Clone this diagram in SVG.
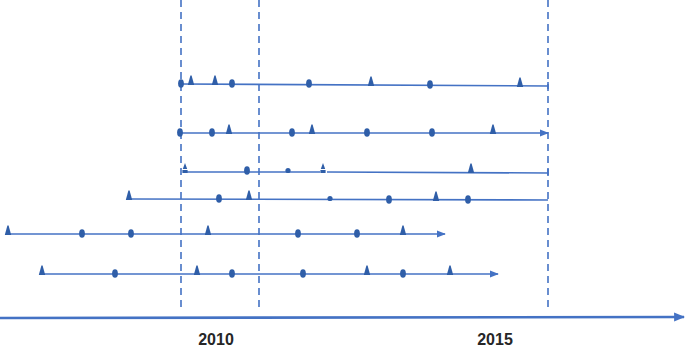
<svg xmlns="http://www.w3.org/2000/svg" xmlns:xlink="http://www.w3.org/1999/xlink" width="685" height="349" viewBox="0 0 685 349">
<style>
.ln{stroke:#4472C4;stroke-width:1.6;fill:none}
.dash{stroke:#4472C4;stroke-width:1.6;stroke-dasharray:7 5;fill:none}
.axis{stroke:#4472C4;stroke-width:2.6;fill:none}
.mk{fill:#2F5EA8}
.yr{font-family:"Liberation Sans",Arial,sans-serif;font-weight:bold;font-size:16px;fill:#262626}
</style>
<defs>
<path id="tri" class="mk" d="M-3.2,1 L-0.6,-8.5 L0.6,-8.5 L3.2,1 Z"/>
<ellipse id="ell" class="mk" cx="0" cy="-0.5" rx="2.9" ry="4.3"/>
<circle id="dot" class="mk" cx="0" cy="-0.5" r="2.6"/>
<path id="stri" class="mk" d="M-2.2,-3 L0,-9 L2.2,-3 Z M-2.6,-2 h5.2 v3 h-5.2 Z"/>
<marker id="arr" viewBox="0 0 10 10" refX="9" refY="5" markerWidth="9" markerHeight="9" markerUnits="userSpaceOnUse" orient="auto">
<path d="M0,1 L10,5 L0,9 Z" fill="#4472C4"/>
</marker>
<marker id="arrB" viewBox="0 0 10 10" refX="9" refY="5" markerWidth="11" markerHeight="11" markerUnits="userSpaceOnUse" orient="auto">
<path d="M0,1 L10,5 L0,9 Z" fill="#4472C4"/>
</marker>
</defs>
<g id="guides">
<line class="dash" x1="181" y1="0" x2="181" y2="312"/>
<line class="dash" x1="259" y1="0" x2="259" y2="312"/>
<line class="dash" x1="548" y1="0" x2="548" y2="312"/>
</g>
<g id="connectors">
<line class="axis" x1="0" y1="318" x2="684" y2="317" marker-end="url(#arrB)"/>
<line class="ln" x1="181" y1="84" x2="548" y2="86"/>
<line class="ln" x1="179" y1="133" x2="548" y2="133" marker-end="url(#arr)"/>
<line class="ln" x1="183" y1="172" x2="320" y2="172"/>
<line class="ln" x1="327" y1="172" x2="548" y2="173"/>
<line class="ln" x1="129" y1="199" x2="548" y2="200"/>
<line class="ln" x1="7" y1="234" x2="445" y2="234" marker-end="url(#arr)"/>
<line class="ln" x1="42" y1="274" x2="498" y2="274" marker-end="url(#arr)"/>
<line class="ln" x1="548" y1="82" x2="548" y2="89"/>
<line class="ln" x1="548" y1="169" x2="548" y2="176"/>
</g>
<g id="row1">
<use href="#ell" x="181" y="84"/>
<use href="#tri" x="191" y="84"/>
<use href="#tri" x="215" y="84"/>
<use href="#ell" x="232" y="84"/>
<use href="#ell" x="309" y="84"/>
<use href="#tri" x="371" y="85"/>
<use href="#ell" x="430" y="85"/>
<use href="#tri" x="520" y="86"/>
</g>
<g id="row2">
<use href="#ell" x="180" y="133"/>
<use href="#ell" x="212" y="133"/>
<use href="#tri" x="229" y="133"/>
<use href="#ell" x="292" y="133"/>
<use href="#tri" x="312" y="133"/>
<use href="#ell" x="367" y="133"/>
<use href="#ell" x="432" y="133"/>
<use href="#tri" x="493" y="133"/>
</g>
<g id="row3">
<use href="#stri" x="185" y="172"/>
<use href="#ell" x="247" y="171"/>
<use href="#dot" x="288" y="171"/>
<use href="#stri" x="323" y="172"/>
<use href="#tri" x="471" y="172"/>
</g>
<g id="row4">
<use href="#tri" x="129" y="199"/>
<use href="#ell" x="219" y="199"/>
<use href="#tri" x="249" y="199"/>
<use href="#dot" x="330" y="199"/>
<use href="#ell" x="389" y="200"/>
<use href="#tri" x="436" y="200"/>
<use href="#ell" x="468" y="200"/>
</g>
<g id="row5">
<use href="#tri" x="8" y="234"/>
<use href="#ell" x="82" y="234"/>
<use href="#ell" x="131" y="234"/>
<use href="#tri" x="208" y="234"/>
<use href="#ell" x="298" y="234"/>
<use href="#ell" x="357" y="234"/>
<use href="#tri" x="403" y="234"/>
</g>
<g id="row6">
<use href="#tri" x="42" y="274"/>
<use href="#ell" x="115" y="274"/>
<use href="#tri" x="197" y="274"/>
<use href="#ell" x="232" y="274"/>
<use href="#ell" x="303" y="274"/>
<use href="#tri" x="367" y="274"/>
<use href="#ell" x="403" y="274"/>
<use href="#tri" x="450" y="274"/>
</g>
<g id="labels">
<text class="yr" x="216" y="345" text-anchor="middle">2010</text>
<text class="yr" x="495" y="345" text-anchor="middle">2015</text>
</g>
</svg>
